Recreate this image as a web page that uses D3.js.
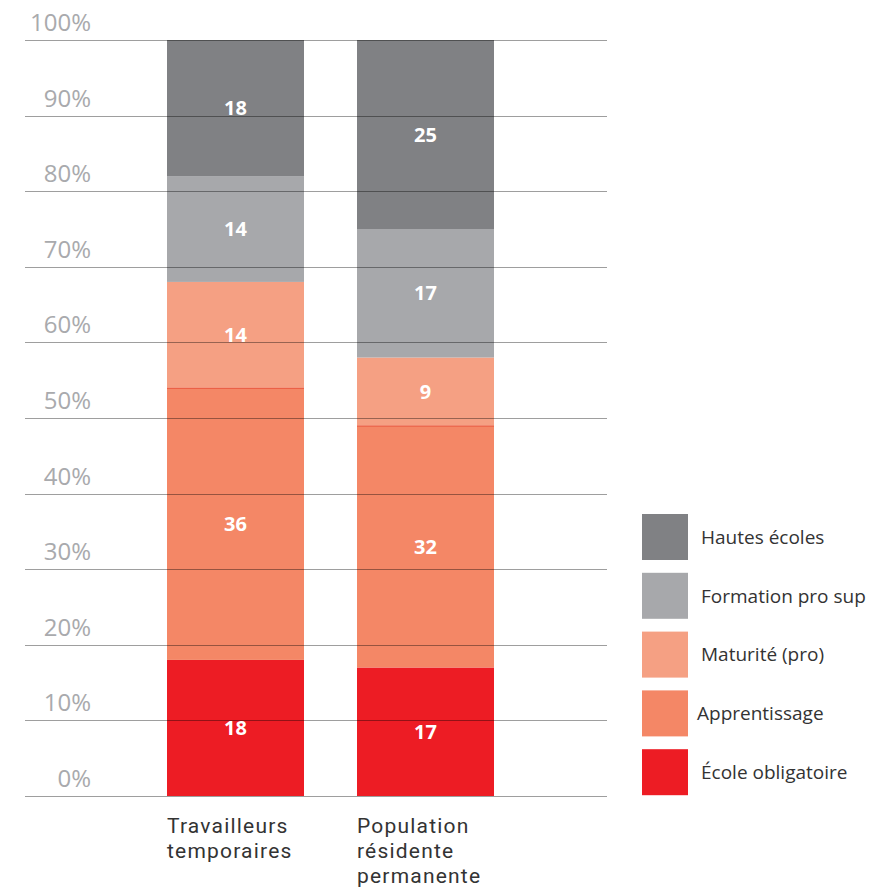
<!DOCTYPE html>
<html>
<head>
<meta charset="utf-8">
<script src="https://cdn.jsdelivr.net/npm/d3@7"></script>
<style>
  body { margin: 0; background: #fff; }
  svg { display: block; font-family: "Open Sans", "DejaVu Sans", sans-serif; }
</style>
</head>
<body>
<div id="chart"></div>
<script>
// categories (bars) and series, bottom to top
var groups = ["Travailleurs temporaires", "Population résidente permanente"]
var groupLines = [["Travailleurs", "temporaires"], ["Population", "résidente", "permanente"]]
var series = ["École obligatoire", "Apprentissage", "Maturité (pro)", "Formation pro sup", "Hautes écoles"]
var colors = ["#ed1c24", "#f48766", "#f5a083", "#a7a8ab", "#808184"]
var values = [
    [18, 36, 14, 14, 18],   // Travailleurs temporaires
    [17, 32, 9, 17, 25]     // Population résidente permanente
]
var yTicks = [0, 10, 20, 30, 40, 50, 60, 70, 80, 90, 100]

var width = 874, height = 891

var svg = d3.select("#chart").append("svg")
    .attr("width", width)
    .attr("height", height)

var y = d3.scaleLinear().domain([0, 100]).range([796, 40])
var x = d3.scaleBand().domain(groups).range([167, 494]).paddingInner(0.279).paddingOuter(0)

// stacked data
var stacked = []
groups.forEach(function (g, gi) {
    var acc = 0
    values[gi].forEach(function (v, si) {
        stacked.push({ group: g, series: si, y0: acc, y1: acc + v, value: v })
        acc += v
    })
})

svg.selectAll(".seg")
    .data(stacked)
    .enter().append("rect")
    .attr("class", "seg")
    .attr("x", function (d) { return x(d.group) })
    .attr("width", x.bandwidth())
    .attr("y", function (d) { return y(d.y1) })
    .attr("height", function (d) { return y(d.y0) - y(d.y1) })
    .style("fill", function (d) { return colors[d.series] })

// thin darker edge on top of the apprentissage block
svg.selectAll(".edge")
    .data(stacked.filter(function (d) { return d.series == 1 }))
    .enter().append("line")
    .attr("x1", function (d) { return x(d.group) })
    .attr("x2", function (d) { return x(d.group) + x.bandwidth() })
    .attr("y1", function (d) { return y(d.y1) + 0.5 })
    .attr("y2", function (d) { return y(d.y1) + 0.5 })
    .style("stroke", "#e8553c")
    .style("stroke-width", 1)

// gridlines drawn over the bars
var grid = svg.append("g")
grid.selectAll("line")
    .data(yTicks)
    .enter().append("line")
    .attr("x1", 25)
    .attr("x2", 607)
    .attr("y1", function (d) { return Math.round(y(d)) + 0.5 })
    .attr("y2", function (d) { return Math.round(y(d)) + 0.5 })
    .style("stroke", "#000")
    .style("stroke-opacity", 0.38)
    .style("stroke-width", 1)

grid.selectAll("text")
    .data(yTicks)
    .enter().append("text")
    .attr("x", 91)
    .attr("y", function (d) { return y(d) - 9 })
    .attr("text-anchor", "end")
    .style("fill", "#a9aaad")
    .style("font-size", "24px")
    .text(function (d) { return d + "%" })

// value labels
svg.selectAll(".val")
    .data(stacked)
    .enter().append("text")
    .attr("class", "val")
    .attr("x", function (d) { return x(d.group) + x.bandwidth() / 2 })
    .attr("y", function (d) { return y((d.y0 + d.y1) / 2) })
    .attr("dy", "0.36em")
    .attr("text-anchor", "middle")
    .style("fill", "#fff")
    .style("font-weight", "bold")
    .style("font-size", "20px")
    .text(function (d) { return d.value })

// category labels, one text per line
groups.forEach(function (g, gi) {
    svg.selectAll(".cat" + gi)
        .data(groupLines[gi])
        .enter().append("text")
        .attr("class", "cat" + gi)
        .attr("x", x(g))
        .attr("y", function (d, li) { return 833 + li * 25 })
        .style("fill", "#333")
        .style("font-family", "Roboto, sans-serif")
        .style("font-size", "21px")
        .style("letter-spacing", "1.2px")
        .text(function (d) { return d })
})

// legend, top entry = last series
var legendOrder = series.map(function (s, i) { return i }).reverse()
var legend = svg.selectAll(".legend")
    .data(legendOrder)
    .enter().append("g")
    .attr("class", "legend")
    .attr("transform", function (d, i) { return "translate(642," + (514 + i * 58.8) + ")" })

legend.append("rect")
    .attr("width", 46)
    .attr("height", 46)
    .style("fill", function (d) { return colors[d] })

legend.append("text")
    .attr("x", function (d) { return d == 1 ? 55 : 59 })
    .attr("y", 23)
    .attr("dy", "0.36em")
    .style("fill", "#333")
    .style("font-size", "19px")
    .text(function (d) { return series[d] })
</script>
</body>
</html>
